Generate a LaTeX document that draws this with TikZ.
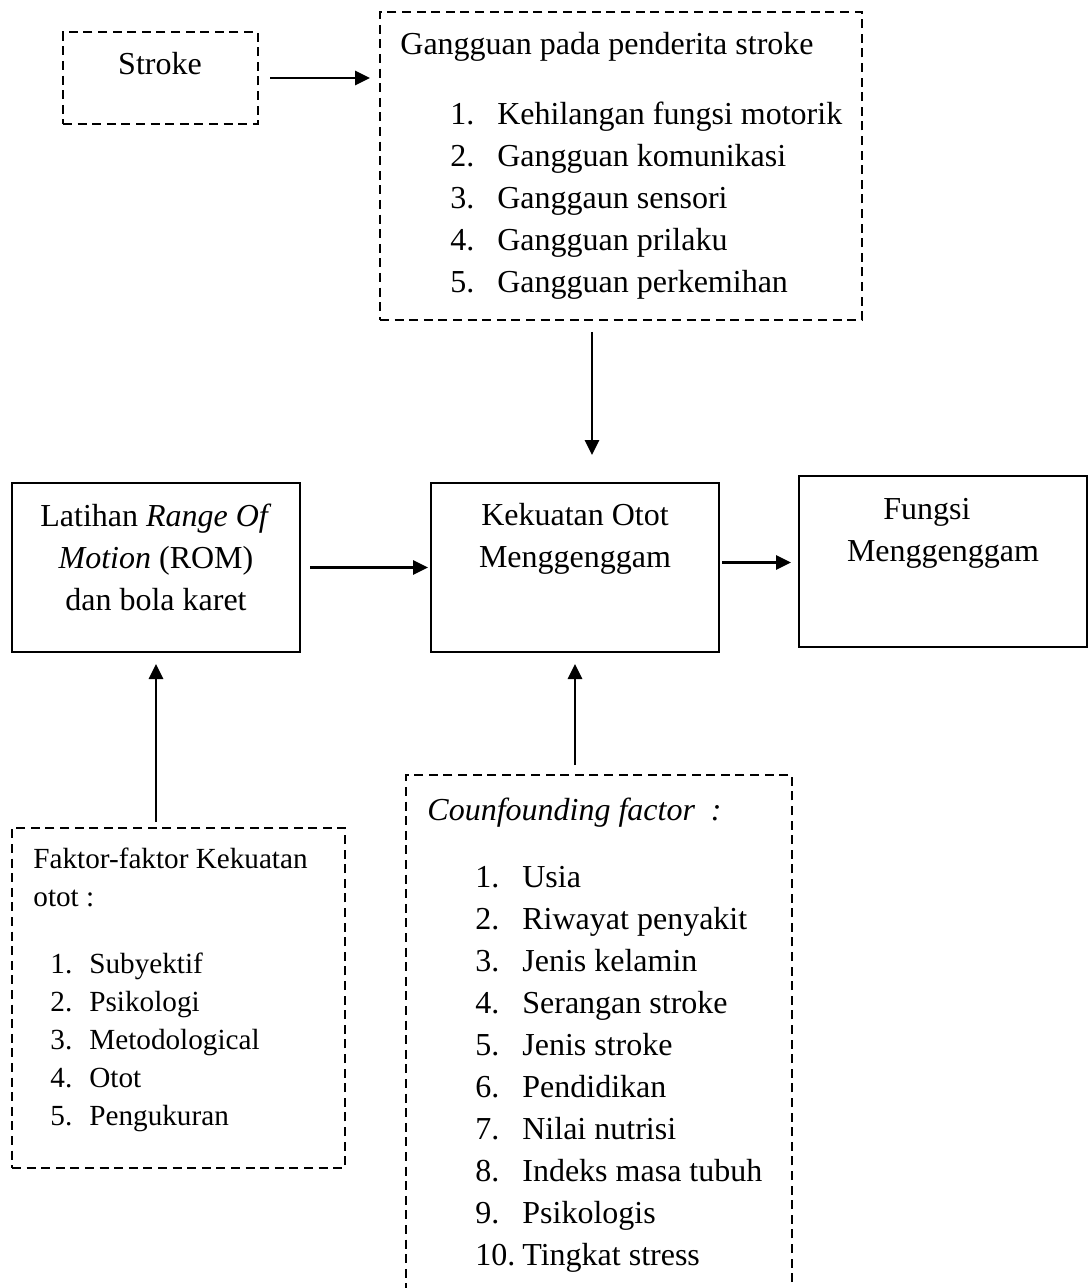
\documentclass[tikz,border=0pt]{standalone}
\usepackage{fontspec}
\setmainfont{Liberation Serif}
\usetikzlibrary{arrows.meta,calc}

\newcommand{\bigtxt}{\fontsize{16}{21}\selectfont}
\newcommand{\smalltxt}{\fontsize{14.6}{19}\selectfont}

\begin{document}
\begin{tikzpicture}[x=0.5pt, y=-0.5pt, >={Triangle[length=7.5pt,width=7pt]},
  box/.style={draw, line width=0.9pt, outer sep=0pt, inner sep=0pt, anchor=north west},
  dbox/.style={box, line width=1.2pt, dash pattern=on 4.5pt off 2.8pt},
  arr/.style={->, line width=1.4pt},
  txt/.style={anchor=base west, inner sep=0pt, font=\bigtxt},
  ctxt/.style={txt, anchor=base}]

\useasboundingbox (0,0) rectangle (1088,1288);

% boxes
\node[dbox, minimum width=97.5pt, minimum height=46pt] (stroke) at (63,32) {};
\node[dbox, minimum width=241pt, minimum height=154pt] (gang) at (380,12) {};
\node[box, minimum width=144pt, minimum height=84.5pt] (lat) at (12,483) {};
\node[box, minimum width=144pt, minimum height=84.5pt] (kek) at (431,483) {};
\node[box, minimum width=144pt, minimum height=85.5pt] (fung) at (799,476) {};
\node[dbox, minimum width=166.5pt, minimum height=170pt] (fak) at (12,828) {};
\node[dbox, minimum width=193pt, minimum height=265pt] (conf) at (406,775) {};

% texts
\node[ctxt] (strokeT) at (160,75) {Stroke};

\node[txt] (gangT) at (400,55) {Gangguan pada penderita stroke};
\node[txt] (gangL) at (450,125) {\begin{tabular}[t]{@{}p{23.5pt}@{}l@{}}
  1. & Kehilangan fungsi motorik\\
  2. & Gangguan komunikasi\\
  3. & Ganggaun sensori\\
  4. & Gangguan prilaku\\
  5. & Gangguan perkemihan
\end{tabular}};

\node[ctxt] (latT) at (156,526) {\begin{tabular}[t]{@{}c@{}}
  Latihan \textit{Range Of}\\
  \textit{Motion} (ROM)\\
  dan bola karet
\end{tabular}};

\node[ctxt] (kekT) at (575,525) {\begin{tabular}[t]{@{}c@{}}
  Kekuatan Otot\\
  Menggenggam
\end{tabular}};

\node[ctxt] (fungT) at (943,519) {\begin{tabular}[t]{@{}c@{}}
  Fungsi\hspace*{16pt}\\
  Menggenggam
\end{tabular}};

\node[txt, font=\smalltxt] (fakT) at (33,868) {\begin{tabular}[t]{@{}l@{}}
  Faktor-faktor Kekuatan\\
  otot :
\end{tabular}};
\node[txt, font=\smalltxt] (fakL) at (50,973) {\begin{tabular}[t]{@{}p{19.5pt}@{}l@{}}
  1. & Subyektif\\
  2. & Psikologi\\
  3. & Metodological\\
  4. & Otot\\
  5. & Pengukuran
\end{tabular}};

\node[txt] (confT) at (427,820) {\textit{Counfounding factor~~:}};
\node[txt] (confL) at (475,887) {\begin{tabular}[t]{@{}p{23.5pt}@{}l@{}}
  1. & Usia\\
  2. & Riwayat penyakit\\
  3. & Jenis kelamin\\
  4. & Serangan stroke\\
  5. & Jenis stroke\\
  6. & Pendidikan\\
  7. & Nilai nutrisi\\
  8. & Indeks masa tubuh\\
  9. & Psikologis\\
  10. & Tingkat stress
\end{tabular}};

% arrows
\coordinate (dn) at (592,0);
\draw[arr, shorten <=6pt, shorten >=5pt] (stroke.east) -- (stroke.east -| gang.west);
\draw[arr, shorten <=6pt, shorten >=14pt] (gang.south -| dn) -- (kek.north -| dn);
\draw[arr, shorten <=5pt, shorten >=1.5pt] (lat.east) -- (kek.west);
\draw[arr, shorten <=1.5pt, shorten >=4pt] ([yshift=2.5pt]kek.east) -- ([yshift=2.5pt]kek.east -| fung.west);
\draw[arr, shorten <=3pt, shorten >=6pt] (fak.north -| lat.south) -- (lat.south);
\draw[arr, shorten <=5pt, shorten >=6pt] (conf.north -| kek.south) -- (kek.south);

\end{tikzpicture}
\end{document}
